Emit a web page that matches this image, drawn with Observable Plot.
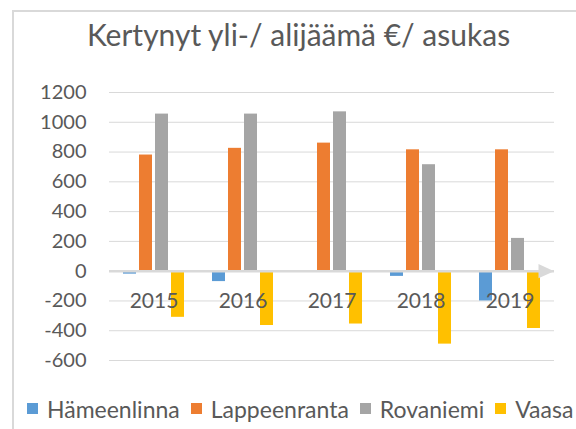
<!DOCTYPE html>
<html>
<head>
<meta charset="utf-8">
<script src="https://cdn.jsdelivr.net/npm/d3@7"></script>
<script src="https://cdn.jsdelivr.net/npm/@observablehq/plot@0.6"></script>
<style>
  html, body { margin: 0; padding: 0; background: #fff; }
  #page { position: relative; width: 576px; height: 429px; overflow: hidden; background: #fff; font-family: Lato, sans-serif; }
  #frame { position: absolute; left: 12px; top: 10px; width: 700px; height: 500px; border-left: 2px solid #d9d9d9; border-top: 2px solid #d9d9d9; }
  #title { position: absolute; left: 0; top: 19px; width: 597px; text-align: center; font-size: 30px; line-height: 30px; color: #595959; white-space: nowrap; }
  #chart { position: absolute; left: 0; top: 0; }
  #legend { position: absolute; left: 27px; top: 392px; white-space: nowrap; }
  .lg-swatches-wrap { flex-wrap: nowrap !important; }
  .lg-swatch { margin-right: 11px !important; }
  .lg-swatch > svg { margin-right: 9px !important; }
</style>
</head>
<body>
<div id="page">
  <div id="frame"></div>
  <div id="chart"></div>
  <div id="title">Kertynyt yli-/ alijäämä €/ asukas</div>
  <div id="legend"></div>
</div>
<script>
const years = ["2015", "2016", "2017", "2018", "2019"];
const cities = ["Hämeenlinna", "Lappeenranta", "Rovaniemi", "Vaasa"];
const hameenlinna = [-20, -70, 0, -35, -200];
const lappeenranta = [780, 825, 860, 815, 815];
const rovaniemi = [1055, 1055, 1070, 715, 220];
const vaasa = [-310, -365, -355, -490, -385];
const yTicks = [-600, -400, -200, 0, 200, 400, 600, 800, 1000, 1200];
const colors = ["#5b9bd5", "#ed7d31", "#a5a5a5", "#ffc000"];

const series = [hameenlinna, lappeenranta, rovaniemi, vaasa];
const rows = [];
years.forEach((year, i) => {
  cities.forEach((city, j) => rows.push({year, city, value: series[j][i]}));
});

const rightTriangle = {
  draw(context, size) {
    const k = Math.sqrt(size / Math.PI);
    context.moveTo(1.6 * k, 0);
    context.lineTo(-1.0 * k, -1.2 * k);
    context.lineTo(-1.0 * k, 1.2 * k);
    context.closePath();
  }
};

const chart = Plot.plot({
  width: 576,
  height: 380,
  marginTop: 92,
  marginBottom: 20,
  marginLeft: 108,
  marginRight: 22,
  style: {fontFamily: "Lato, sans-serif", fontSize: "20px", color: "#595959", background: "transparent"},
  fx: {axis: null, domain: years, padding: 0},
  x: {axis: null, domain: cities, paddingInner: 0.21, paddingOuter: 0.875},
  y: {domain: [-600, 1200], ticks: yTicks, tickFormat: d => `${d}`, tickSize: 0, tickPadding: 23, label: null},
  color: {domain: cities, range: colors},
  marks: [
    Plot.ruleY(yTicks, {stroke: "#d9d9d9", strokeWidth: 1}),
    Plot.barY(rows, {fx: "year", x: "city", y: "value", fill: "city"}),
    Plot.ruleY([0], {stroke: "#d9d9d9", strokeWidth: 2.5}),
    Plot.text(years, {fx: d => d, y: 0, text: d => d, dy: 30, fontSize: 21, fill: "#595959"}),
    Plot.dot([years[years.length - 1]], {fx: d => d, y: 0, frameAnchor: "right", dx: -10, r: 6, symbol: rightTriangle, fill: "#d9d9d9", stroke: "none"})
  ]
});
document.getElementById("chart").appendChild(chart);

const legend = Plot.legend({
  color: {domain: cities, range: colors},
  legend: "swatches",
  swatchSize: 11,
  className: "lg",
  style: {fontFamily: "Lato, sans-serif", fontSize: "23px", color: "#595959"}
});
document.getElementById("legend").appendChild(legend);
</script>
</body>
</html>
